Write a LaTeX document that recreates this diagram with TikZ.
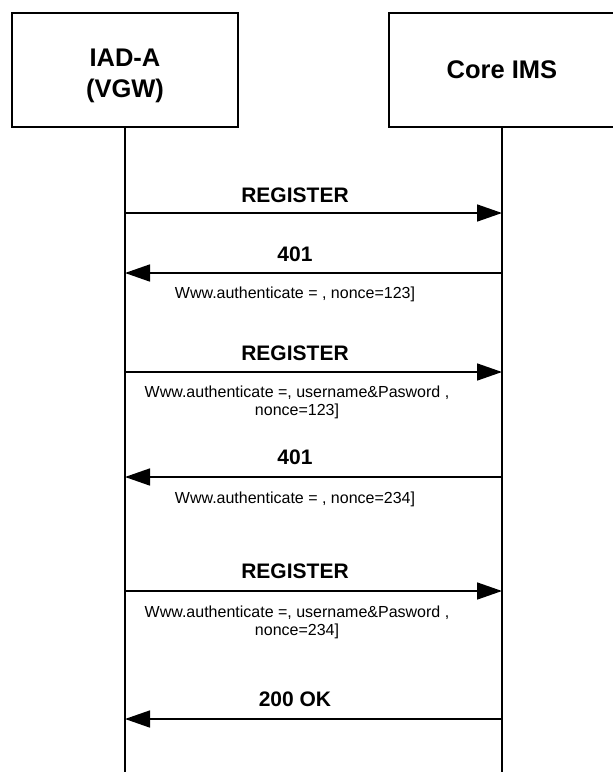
\documentclass[tikz,border=0pt]{standalone}
\usepackage{fontspec}
\setmainfont{Liberation Sans}
\usepackage{tikz}
\usetikzlibrary{positioning, calc, arrows.meta}
\tikzset{
    actorBox/.style={
        draw, line width=2pt, fill=white, minimum width=226pt, minimum height=114pt,
        align=center, inner sep=0pt, font=\fontsize{25.5}{31}\selectfont\bfseries
    },
    lifeLine/.style={
        line width=2pt
    },
    msgArrow/.style={
        -{Triangle[length=25pt, width=17pt]}, line width=1.6pt
    },
    msgLabel/.style={
        anchor=base, inner sep=0pt, font=\fontsize{21}{25}\selectfont\bfseries
    },
    noteText/.style={
        anchor=north, inner sep=0pt, align=center, font=\fontsize{16}{18}\selectfont
    }
}

\begin{document}
\begin{tikzpicture}[x=1pt, y=-1pt]
    \useasboundingbox (0,0) rectangle (613,772);

    % --- VẼ HAI THỰC THỂ ---
    \node[actorBox] (iad) at (125,70) {\rule{0pt}{30pt}IAD-A\\(VGW)};
    \node[actorBox] (core) at (502,70) {Core IMS};

    % --- ĐƯỜNG THỜI GIAN ---
    \coordinate (iadEnd) at (125,772);
    \coordinate (coreEnd) at (502,772);
    \draw[lifeLine] (iad.south) -- (iadEnd);
    \draw[lifeLine] (core.south) -- (coreEnd);

    % --- ĐIỂM ĐẦU/CUỐI CÁC BẢN TIN ---
    \coordinate (a1) at (125,213); \coordinate (b1) at (502,213);
    \coordinate (a2) at (125,273); \coordinate (b2) at (502,273);
    \coordinate (a3) at (125,372); \coordinate (b3) at (502,372);
    \coordinate (a4) at (125,477); \coordinate (b4) at (502,477);
    \coordinate (a5) at (125,591); \coordinate (b5) at (502,591);
    \coordinate (a6) at (125,719); \coordinate (b6) at (502,719);

    % --- BẢN TIN 1: REGISTER ---
    \draw[msgArrow] (a1) -- (b1);
    \node[msgLabel] (lbl1) at (295,202) {REGISTER};

    % --- BẢN TIN 2: 401 ---
    \draw[msgArrow] (b2) -- (a2);
    \node[msgLabel] (lbl2) at (295,261) {401};
    \node[noteText] (note2) at (295,286.5) {Www.authenticate = , nonce=123]};

    % --- BẢN TIN 3: REGISTER ---
    \draw[msgArrow] (a3) -- (b3);
    \node[msgLabel] (lbl3) at (295,360) {REGISTER};
    \node[noteText] (note3) at (297,386) {Www.authenticate =, username\&Pasword ,\\nonce=123]};

    % --- BẢN TIN 4: 401 ---
    \draw[msgArrow] (b4) -- (a4);
    \node[msgLabel] (lbl4) at (295,464) {401};
    \node[noteText] (note4) at (295,491.5) {Www.authenticate = , nonce=234]};

    % --- BẢN TIN 5: REGISTER ---
    \draw[msgArrow] (a5) -- (b5);
    \node[msgLabel] (lbl5) at (295,578) {REGISTER};
    \node[noteText] (note5) at (297,605.5) {Www.authenticate =, username\&Pasword ,\\nonce=234]};

    % --- BẢN TIN 6: 200 OK ---
    \draw[msgArrow] (b6) -- (a6);
    \node[msgLabel] (lbl6) at (295,706) {200 OK};

\end{tikzpicture}
\end{document}
